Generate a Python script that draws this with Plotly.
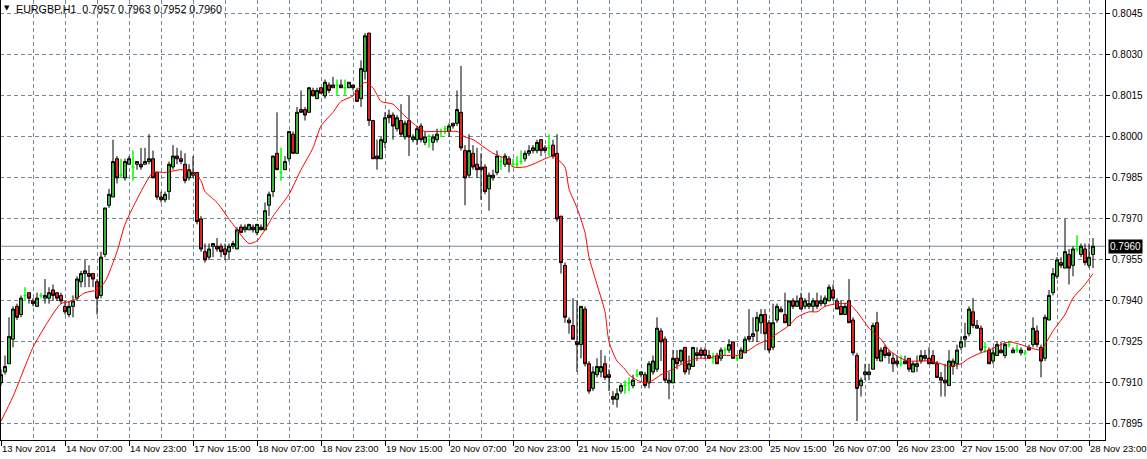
import plotly.graph_objects as go

# ---------------- data ----------------
bars = list(range(274))

opens = [
 .7910,.7914,.7917,.7926,.7938,.7935,.7942,.7943,.7940,.7938,
 .7942,.7941,.7941,.7944,.7943,.7942,.7938,.7935,.7938,.7941,
 .7947,.7950,.7950,.7950,.7947,.7942,.7957,.7975,.7978,.7992,
 .7986,.7985,.7990,.7989,.7990,.7990,.7990,.7991,.7992,.7987,
 .7978,.7977,.7980,.7989,.7993,.7992,.7990,.7985,.7986,.7987,
 .7970,.7958,.7956,.7960,.7960,.7960,.7959,.7958,.7960,.7959,
 .7967,.7966,.7966,.7967,.7965,.7967,.7966,.7975,.7980,.7994,
 .7987,.7988,.7992,.8001,.7994,.8010,.8010,.8009,.8017,.8014,
 .8018,.8015,.8019,.8018,.8019,.8019,.8018,.8018,.8019,.8017,
 .8014,.8024,.8038,.8006,.7993,.7992,.7998,.8008,.8008,.8003,
 .8006,.8000,.8006,.7999,.7999,.8004,.7998,.7999,.7998,.7999,
 .8002,.8003,.8002,.8005,.8005,.8009,.7995,.7986,.7994,.7990,
 .7989,.7989,.7981,.7985,.7987,.7991,.7990,.7992,.7990,.7990,
 .7991,.7992,.7994,.7995,.7995,.7999,.7996,.7996,.7997,.7994,
 .7971,.7953,.7933,.7931,.7925,.7924,.7937,.7917,.7908,.7913,
 .7914,.7917,.7913,.7905,.7904,.7907,.7909,.7910,.7909,.7913,
 .7913,.7913,.7910,.7914,.7915,.7929,.7926,.7910,.7910,.7919,
 .7918,.7923,.7915,.7916,.7921,.7922,.7922,.7920,.7919,.7920,
 .7919,.7922,.7922,.7925,.7919,.7919,.7921,.7927,.7927,.7929,
 .7932,.7935,.7932,.7923,.7933,.7937,.7935,.7931,.7940,.7938,
 .7941,.7938,.7938,.7938,.7940,.7939,.7939,.7940,.7944,.7940,
 .7938,.7935,.7940,.7933,.7920,.7909,.7913,.7913,.7915,.7932,
 .7918,.7923,.7921,.7919,.7918,.7917,.7918,.7919,.7914,.7916,
 .7918,.7920,.7919,.7920,.7917,.7912,.7911,.7909,.7916,.7917,
 .7923,.7926,.7928,.7936,.7931,.7930,.7923,.7922,.7918,.7920,
 .7922,.7920,.7924,.7921,.7922,.7921,.7921,.7923,.7924,.7929,
 .7923,.7919,.7933,.7943,.7949,.7954,.7952,.7957,.7953,.7959,
 .7957,.7959,.7953,.7957]

highs = [
 .7915,.7920,.7934,.7938,.7939,.7942,.7945,.7943,.7941,.7943,
 .7943,.7948,.7945,.7946,.7943,.7943,.7940,.7940,.7942,.7949,
 .7951,.7955,.7953,.7950,.7948,.7958,.7974,.7981,.7999,.7993,
 .7992,.7992,.7993,.7995,.7991,.7996,.7996,.8001,.7995,.7987,
 .7980,.7980,.7991,.7997,.7996,.7995,.7994,.7990,.7993,.7987,
 .7971,.7961,.7961,.7961,.7963,.7961,.7961,.7961,.7962,.7967,
 .7968,.7968,.7968,.7968,.7968,.7968,.7976,.7980,.7993,.8009,
 .7996,.7993,.8002,.8002,.8011,.8017,.8011,.8018,.8018,.8018,
 .8018,.8021,.8020,.8022,.8021,.8021,.8021,.8020,.8019,.8018,
 .8028,.8038,.8038,.8006,.7999,.8000,.8009,.8010,.8009,.8008,
 .8012,.8006,.8015,.8001,.8004,.8005,.8002,.8001,.8001,.8003,
 .8003,.8004,.8005,.8005,.8017,.8026,.7997,.8001,.7997,.7996,
 .7994,.7990,.7987,.7988,.7995,.7993,.7994,.7993,.7992,.7993,
 .7995,.7995,.7997,.7997,.7999,.7999,.7997,.8001,.7999,.8001,
 .7971,.7954,.7934,.7941,.7940,.7938,.7938,.7918,.7916,.7919,
 .7922,.7920,.7915,.7907,.7908,.7910,.7911,.7912,.7913,.7915,
 .7914,.7914,.7918,.7920,.7934,.7930,.7927,.7914,.7922,.7922,
 .7922,.7923,.7920,.7923,.7923,.7923,.7923,.7922,.7921,.7921,
 .7923,.7923,.7926,.7925,.7920,.7923,.7927,.7937,.7934,.7936,
 .7937,.7937,.7933,.7939,.7939,.7938,.7943,.7940,.7941,.7942,
 .7943,.7941,.7943,.7941,.7943,.7942,.7942,.7946,.7946,.7941,
 .7940,.7939,.7948,.7934,.7921,.7912,.7917,.7917,.7932,.7936,
 .7923,.7924,.7922,.7921,.7920,.7920,.7920,.7919,.7918,.7920,
 .7922,.7922,.7923,.7922,.7918,.7914,.7917,.7922,.7919,.7924,
 .7927,.7932,.7938,.7941,.7933,.7931,.7925,.7923,.7923,.7925,
 .7925,.7925,.7925,.7923,.7924,.7923,.7922,.7924,.7934,.7931,
 .7924,.7935,.7944,.7952,.7956,.7956,.7970,.7959,.7960,.7964,
 .7961,.7961,.7961,.7963]

lows = [
 .7909,.7913,.7917,.7923,.7933,.7934,.7940,.7939,.7938,.7938,
 .7941,.7939,.7939,.7940,.7940,.7939,.7935,.7934,.7934,.7940,
 .7945,.7945,.7945,.7945,.7935,.7941,.7956,.7974,.7978,.7983,
 .7985,.7984,.7990,.7984,.7988,.7988,.7990,.7990,.7985,.7977,
 .7976,.7976,.7977,.7988,.7990,.7990,.7983,.7984,.7985,.7968,
 .7958,.7954,.7955,.7956,.7958,.7956,.7955,.7955,.7959,.7959,
 .7965,.7965,.7966,.7965,.7964,.7966,.7966,.7971,.7978,.7988,
 .7984,.7988,.7991,.7994,.7994,.8009,.8006,.8009,.8015,.8014,
 .8016,.8014,.8016,.8018,.8015,.8018,.8015,.8018,.8017,.8013,
 .8011,.8021,.8004,.7992,.7988,.7992,.7996,.8005,.7999,.8002,
 .8000,.7999,.7993,.7998,.7997,.7998,.7997,.7996,.7995,.7998,
 .8000,.8001,.8000,.8003,.8004,.7995,.7975,.7985,.7988,.7985,
 .7977,.7979,.7973,.7984,.7986,.7988,.7989,.7987,.7989,.7989,
 .7990,.7991,.7993,.7994,.7994,.7993,.7994,.7993,.7992,.7969,
 .7950,.7932,.7928,.7926,.7914,.7919,.7916,.7906,.7907,.7912,
 .7912,.7911,.7907,.7902,.7901,.7906,.7906,.7907,.7908,.7912,
 .7912,.7908,.7908,.7913,.7914,.7918,.7910,.7904,.7910,.7915,
 .7917,.7913,.7913,.7916,.7918,.7919,.7919,.7919,.7917,.7917,
 .7918,.7920,.7921,.7919,.7918,.7919,.7921,.7925,.7925,.7925,
 .7928,.7922,.7921,.7922,.7932,.7936,.7932,.7931,.7937,.7938,
 .7937,.7937,.7937,.7936,.7937,.7938,.7938,.7940,.7940,.7937,
 .7935,.7935,.7932,.7920,.7896,.7905,.7911,.7911,.7915,.7918,
 .7918,.7919,.7917,.7914,.7916,.7916,.7917,.7914,.7914,.7914,
 .7917,.7918,.7917,.7917,.7912,.7905,.7905,.7909,.7913,.7915,
 .7922,.7923,.7927,.7930,.7930,.7921,.7921,.7917,.7917,.7920,
 .7921,.7919,.7923,.7921,.7921,.7920,.7920,.7922,.7923,.7923,
 .7912,.7918,.7933,.7942,.7948,.7952,.7952,.7946,.7949,.7958,
 .7956,.7953,.7952,.7952]

closes = [
 .7913,.7916,.7927,.7937,.7934,.7941,.7942,.7941,.7939,.7941,
 .7942,.7942,.7943,.7942,.7941,.7940,.7936,.7938,.7940,.7948,
 .7950,.7951,.7949,.7948,.7941,.7956,.7974,.7979,.7991,.7985,
 .7986,.7991,.7992,.7989,.7991,.7989,.7991,.7992,.7985,.7978,
 .7977,.7979,.7990,.7993,.7992,.7991,.7984,.7988,.7987,.7969,
 .7959,.7955,.7959,.7961,.7959,.7958,.7957,.7960,.7961,.7966,
 .7965,.7967,.7968,.7966,.7968,.7966,.7973,.7979,.7993,.7988,
 .7987,.7991,.8002,.7994,.8009,.8009,.8008,.8018,.8015,.8017,
 .8016,.8020,.8017,.8019,.8019,.8018,.8018,.8020,.8018,.8013,
 .8025,.8037,.8006,.7992,.7992,.7999,.8007,.8007,.8004,.8007,
 .8001,.8005,.8000,.8000,.8003,.7999,.8000,.7999,.8000,.8001,
 .8002,.8003,.8004,.8004,.8010,.7996,.7985,.7995,.7989,.7988,
 .7988,.7980,.7986,.7986,.7993,.7991,.7993,.7990,.7990,.7990,
 .7991,.7994,.7995,.7996,.7998,.7995,.7995,.7996,.7993,.7970,
 .7954,.7934,.7932,.7926,.7924,.7938,.7917,.7907,.7914,.7916,
 .7916,.7912,.7912,.7904,.7906,.7909,.7909,.7910,.7911,.7913,
 .7914,.7909,.7917,.7918,.7930,.7925,.7911,.7911,.7919,.7917,
 .7922,.7914,.7917,.7923,.7920,.7920,.7920,.7919,.7919,.7917,
 .7922,.7922,.7924,.7919,.7919,.7922,.7926,.7926,.7928,.7934,
 .7935,.7928,.7922,.7932,.7938,.7936,.7932,.7940,.7938,.7940,
 .7937,.7940,.7939,.7940,.7938,.7940,.7941,.7945,.7941,.7937,
 .7935,.7938,.7932,.7921,.7908,.7911,.7914,.7914,.7931,.7919,
 .7922,.7920,.7920,.7917,.7917,.7917,.7917,.7915,.7917,.7917,
 .7920,.7919,.7917,.7917,.7912,.7911,.7910,.7918,.7918,.7922,
 .7925,.7927,.7937,.7931,.7930,.7922,.7923,.7917,.7921,.7924,
 .7921,.7924,.7924,.7922,.7922,.7922,.7921,.7922,.7930,.7924,
 .7918,.7934,.7942,.7950,.7955,.7953,.7958,.7952,.7959,.7959,
 .7960,.7954,.7956,.7960]

# red moving-average line
ma_bars = [0, 3, 8, 12, 15, 18, 21, 24, 26, 29, 31, 35, 38, 41, 45, 48, 50, 51, 54,
           58, 62, 64, 66, 68, 72, 75, 78, 80, 83, 85, 88, 89, 91, 93, 95, 98, 100,
           103, 106, 108, 110, 112, 114, 116, 118, 121, 123, 126, 128, 131, 133, 136,
           138, 139, 141, 142, 144, 146, 147, 149, 151, 152, 154, 156, 157, 159, 161,
           163, 165, 168, 169, 172, 174, 177, 179, 182, 184, 187, 189, 192, 194, 197,
           199, 202, 204, 206, 209, 210, 212, 214, 216, 217, 220, 222, 225, 227, 230,
           232, 235, 237, 240, 242, 245, 247, 250, 252, 255, 257, 260, 261, 263, 266,
           268, 271, 273]
ma_vals = [.7896, .7905, .7923, .7933, .7939, .7940, .7943, .7944, .7947, .7958, .7968,
           .7980, .7987, .7987, .7988, .7987, .7984, .7980, .7976, .7968, .7961, .7962,
           .7966, .7971, .7979, .7988, .7996, .8004, .8009, .8013, .8015, .8017, .8020,
           .8018, .8013, .8012, .8009, .8005, .8002, .8002, .8002, .8002, .8002, .8000,
           .7999, .7996, .7994, .7992, .7989, .7989, .7990, .7992, .7993, .7992, .7989,
           .7981, .7974, .7965, .7956, .7946, .7936, .7925, .7918, .7915, .7913, .7911,
           .7910, .7911, .7913, .7915, .7916, .7918, .7919, .7919, .7920, .7920, .7920,
           .7922, .7924, .7926, .7928, .7931, .7934, .7936, .7936, .7938, .7939, .7939,
           .7939, .7936, .7932, .7930, .7926, .7922, .7919, .7918, .7918, .7918, .7917,
           .7916, .7917, .7919, .7921, .7922, .7924, .7925, .7924, .7923, .7922, .7924,
           .7929, .7935, .7941, .7946, .7950]

tick_bars = [0, 16, 32, 48, 64, 80, 96, 112, 128, 144, 160, 176, 192, 208, 224, 240, 256, 272]
tick_labels = ["13 Nov 2014", "14 Nov 07:00", "14 Nov 23:00", "17 Nov 15:00", "18 Nov 07:00",
               "18 Nov 23:00", "19 Nov 15:00", "20 Nov 07:00", "20 Nov 23:00", "21 Nov 15:00",
               "24 Nov 07:00", "24 Nov 23:00", "25 Nov 15:00", "26 Nov 07:00", "26 Nov 23:00",
               "27 Nov 15:00", "28 Nov 07:00", "28 Nov 23:00"]
grid_bars = [8, 24, 40, 56, 72, 88, 104, 120, 136, 152, 168, 184, 200, 216, 232, 248, 264]
price_ticks = [0.7895, 0.7910, 0.7925, 0.7940, 0.7955, 0.7970, 0.7985,
               0.8000, 0.8015, 0.8030, 0.8045]
header_text = "EURGBP,H1  0.7957 0.7963 0.7952 0.7960"
last_price = 0.7960

# ---------------- styles ----------------
GRID = "#778899"
BULL = "#3cb43c"
BEAR = "#e62020"
DOJI = "#00ff00"
FONT = "Liberation Sans, Arial, sans-serif"

reg = [i for i in bars if opens[i] != closes[i]]
doj = [i for i in bars if opens[i] == closes[i]]

fig = go.Figure()
fig.add_trace(go.Candlestick(
    x=[bars[i] for i in reg],
    open=[opens[i] for i in reg], high=[highs[i] for i in reg],
    low=[lows[i] for i in reg], close=[closes[i] for i in reg],
    increasing=dict(fillcolor=BULL, line=dict(color="black", width=1)),
    decreasing=dict(fillcolor=BEAR, line=dict(color="black", width=1)),
    whiskerwidth=0, showlegend=False, hoverinfo="skip"))
fig.add_trace(go.Candlestick(
    x=[bars[i] for i in doj],
    open=[opens[i] for i in doj], high=[highs[i] for i in doj],
    low=[lows[i] for i in doj], close=[closes[i] for i in doj],
    increasing=dict(fillcolor=DOJI, line=dict(color=DOJI, width=1.5)),
    decreasing=dict(fillcolor=DOJI, line=dict(color=DOJI, width=1.5)),
    whiskerwidth=0, showlegend=False, hoverinfo="skip"))
fig.add_trace(go.Scatter(
    x=ma_bars, y=ma_vals, mode="lines",
    line=dict(color="red", width=1, shape="spline", smoothing=0.6),
    showlegend=False, hoverinfo="skip"))

fig.update_layout(
    width=1147, height=459,
    margin=dict(l=0, r=42, t=0, b=19),
    paper_bgcolor="white", plot_bgcolor="white",
    boxgap=0.25, boxgroupgap=0,
    font=dict(family=FONT, size=10, color="black"),
    xaxis=dict(
        range=[-0.25, 276], rangeslider=dict(visible=False),
        tickmode="array", tickvals=tick_bars, ticktext=tick_labels,
        ticks="outside", ticklen=5, tickcolor="black", tickwidth=1,
        tickangle=0,
        ticklabelposition="outside right", ticklabeloverflow="allow",
        tickfont=dict(family=FONT, size=9.5, color="black"),
        showgrid=True, gridcolor=GRID, griddash="4px,3px", gridwidth=1,
        minor=dict(tickvals=grid_bars, showgrid=True, gridcolor=GRID,
                   griddash="4px,3px", gridwidth=1, ticks=""),
        showline=True, linecolor="black", linewidth=1, zeroline=False),
    yaxis=dict(
        side="right", range=[0.78891, 0.80501],
        tickmode="array", tickvals=price_ticks, tickformat=".4f",
        ticks="outside", ticklen=4, tickcolor="black", tickwidth=1,
        ticklabeloverflow="allow",
        tickfont=dict(family=FONT, size=10, color="black"),
        showgrid=True, gridcolor=GRID, griddash="4px,3px", gridwidth=1,
        showline=True, linecolor="black", linewidth=1, zeroline=False),
)

# left frame line and current-price line
fig.add_shape(type="line", xref="paper", yref="paper", x0=0, x1=0, y0=0, y1=1,
              line=dict(color="black", width=2))
fig.add_shape(type="line", xref="paper", yref="y", x0=0, x1=1, y0=last_price, y1=last_price,
              line=dict(color=GRID, width=1), layer="below")

# header
fig.add_annotation(xref="paper", yref="paper", x=0, y=1, xanchor="left", yanchor="top",
                   xshift=2, yshift=-2, text="▼", showarrow=False,
                   font=dict(family="DejaVu Sans", size=7, color="black"))
fig.add_annotation(xref="paper", yref="paper", x=0, y=1, xanchor="left", yanchor="top",
                   xshift=14, yshift=-1, text=header_text, showarrow=False,
                   font=dict(family=FONT, size=10.7, color="black"))
# current price box
fig.add_annotation(xref="paper", yref="y", x=1, y=last_price, xanchor="left", yanchor="middle",
                   xshift=3, text="%.4f" % last_price, showarrow=False,
                   bgcolor="black", borderpad=1,
                   font=dict(family=FONT, size=10, color="white"))

fig.write_html("out.html", config={"displayModeBar": False},
               post_script="document.body.style.margin='0';document.body.style.padding='0';")
